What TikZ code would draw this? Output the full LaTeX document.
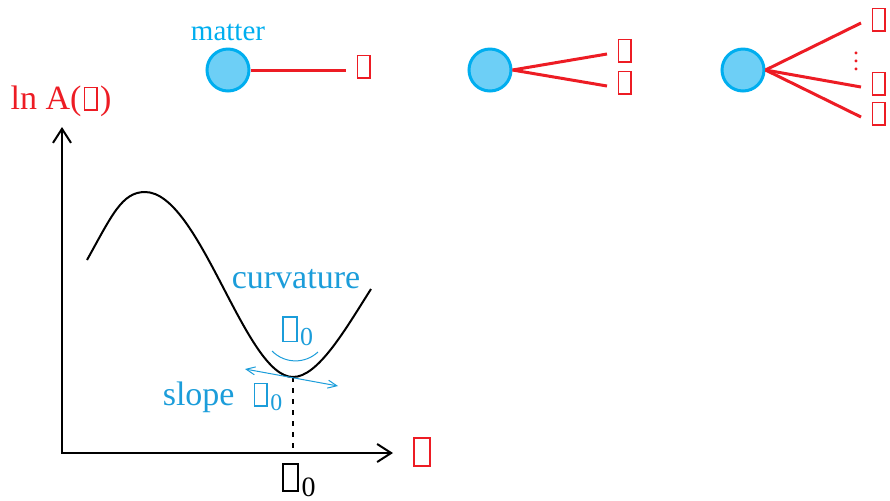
\documentclass[tikz,border=0pt]{standalone}
\usepackage{fontspec}
\setmainfont{Liberation Serif}
\usetikzlibrary{arrows.meta,positioning}
\definecolor{cmat}{RGB}{0,174,239}
\definecolor{cmatfill}{RGB}{109,207,246}
\definecolor{clab}{RGB}{27,157,218}
\definecolor{cfield}{RGB}{237,28,36}
\newcommand{\tofu}{\kern0.07em{\setlength{\fboxsep}{0pt}\setlength{\fboxrule}{0.045em}%
  \fbox{\rule{0pt}{0.62em}\rule{0.32em}{0pt}}}\kern0.07em}
\tikzset{
  matter/.style={circle,draw=cmat,fill=cmatfill,line width=1.5pt,
    minimum size=21pt,inner sep=0pt},
  fld/.style={font=\fontsize{17}{20}\selectfont,text=cfield,anchor=west,
    text depth=4pt,inner xsep=4pt},
  fldline/.style={cfield,line width=1.5pt},
  lab/.style={text=clab,font=\fontsize{17}{20}\selectfont},
  axes/.style={line width=1pt,
    {Straight Barb[length=7pt,width=9pt]}-{Straight Barb[length=7pt,width=9pt]}},
  tangent/.style={clab,line width=0.5pt,
    {Straight Barb[length=4.5pt,width=4pt]}-{Straight Barb[length=4.5pt,width=4pt]}},
  guide/.style={line width=1.3pt,dash pattern=on 2.5pt off 3pt}
}
\begin{document}
\begin{tikzpicture}[x=0.5pt,y=-0.5pt]
  \useasboundingbox (0,0) rectangle (890,500);
  % matter emitting one, two, many fields
  \node[matter] (m1) at (228,70) {};
  \node[matter] (m2) at (490,70) {};
  \node[matter] (m3) at (743,70) {};
  \node[text=cmat,font=\fontsize{14.5}{17}\selectfont,above=0pt of m1] (mlab) {matter};
  \node[fld] (f1) at (346,70) {\tofu};
  \node[fld] (f2a) at (607,54) {\tofu};
  \node[fld] (f2b) at (607,86) {\tofu};
  \node[fld] (f3a) at (861,23) {\tofu};
  \node[fld] (f3b) at (861,87) {\tofu};
  \node[fld] (f3c) at (861,117) {\tofu};
  \node[text=cfield,font=\fontsize{12}{14}\selectfont] (dots) at (856,55) {\vdots};
  \draw[fldline] (m1) -- (f1);
  \draw[fldline] (m2.east) -- (f2a.west);
  \draw[fldline] (m2.east) -- (f2b.west);
  \draw[fldline] (m3.east) -- (f3a.west);
  \draw[fldline] (m3.east) -- (f3b.west);
  \draw[fldline] (m3.east) -- (f3c.west);
  % amplitude landscape
  \coordinate (O) at (62,453);
  \coordinate (ytip) at (62,127);
  \coordinate (xtip) at (393,453);
  \draw[axes] (ytip) -- (O) -- (xtip);
  \node[text=cfield,font=\fontsize{17}{20}\selectfont] (ylab) at (61,101) {ln A(\tofu)};
  \node[text=cfield,font=\fontsize{21}{24}\selectfont] (xlab) at (422,452) {\tofu};
  \coordinate (xmin) at (293,377);
  \draw[line width=1pt] (87,260) .. controls (112,215) and (122,192) .. (145,192)
    .. controls (200,192) and (245,377) .. (xmin)
    .. controls (318,377) and (345,330) .. (371,289);
  \draw[guide] (xmin) -- (xmin |- O);
  \node[font=\fontsize{20}{24}\selectfont] (x0) at (298,480) {\tofu\textsubscript{0}};
  \coordinate (t1) at (245,369);
  \coordinate (t2) at (338,386);
  \draw[tangent] (t1) -- (t2);
  \coordinate (k1) at (272,351);
  \coordinate (k2) at (318,352);
  \draw[clab,line width=0.5pt] (k1) .. controls (285,364) and (305,364) .. (k2);
  \node[lab] (curv) at (296,279) {curvature};
  \node[lab,font=\fontsize{18.5}{22}\selectfont] (k0) at (297,331) {\tofu\textsubscript{0}};
  \node[lab] (slope) at (223,397) {slope\hspace{0.5em}\tofu\textsubscript{0}};
\end{tikzpicture}
\end{document}
